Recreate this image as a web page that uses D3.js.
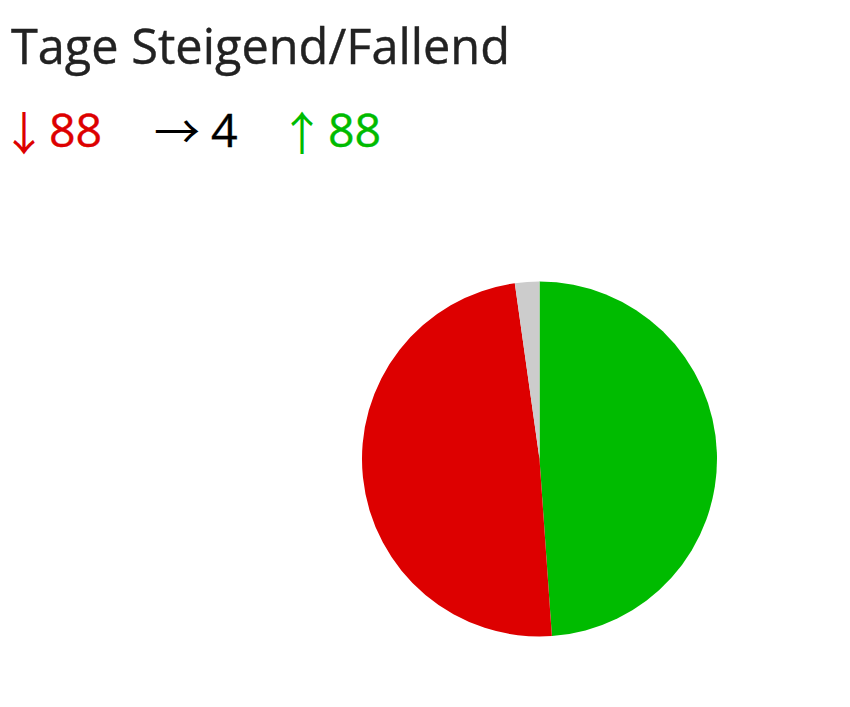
<!DOCTYPE html>
<html><head><meta charset="utf-8">
<script src="https://cdn.jsdelivr.net/npm/d3@7"></script>
<style>body{margin:0;background:#fff;}</style>
</head><body>
<svg id="c" width="850" height="707"></svg>
<script>
const title = "Tage Steigend/Fallend";
const categories = ["Fallend", "Gleich", "Steigend"];
const values = [88, 4, 88];
const arrows = ["↓", "→", "↑"];
const colors = ["#dd0000", "#cccccc", "#00bb00"];
const textColors = ["#dd0000", "#000000", "#00bb00"];

const svg = d3.select("#c");
svg.append("text").attr("x", 11).attr("y", 64)
  .attr("font-family", "Open Sans").attr("font-size", 48.7).attr("fill", "#222")
  .attr("stroke", "#222").attr("stroke-width", 0.4)
  .text(title);

const arrowCX = [24, 177, 302];
const arrowY = [150, 148, 150];
const numX = [49, 211, 328];
categories.forEach((c, i) => {
  svg.append("text").attr("x", arrowCX[i]).attr("y", arrowY[i])
    .attr("text-anchor", "middle")
    .attr("font-family", "Noto Sans CJK JP").attr("font-size", 46).attr("fill", textColors[i])
    .text(arrows[i]);
  svg.append("text").attr("x", numX[i]).attr("y", 147)
    .attr("font-family", "Open Sans").attr("font-size", 46.5).attr("fill", textColors[i])
    .attr("stroke", textColors[i]).attr("stroke-width", 0.4)
    .text(values[i]);
});

// pie order: Steigend clockwise from top, then Fallend, then Gleich
const order = [2, 0, 1];
const pie = d3.pie().sort(null).value(d => values[d]);
const arc = d3.arc().innerRadius(0).outerRadius(177.5);
svg.append("g").attr("transform", "translate(539.5,459)")
  .selectAll("path").data(pie(order)).join("path")
  .attr("d", arc).attr("fill", d => colors[d.data]);
</script>
</body></html>
